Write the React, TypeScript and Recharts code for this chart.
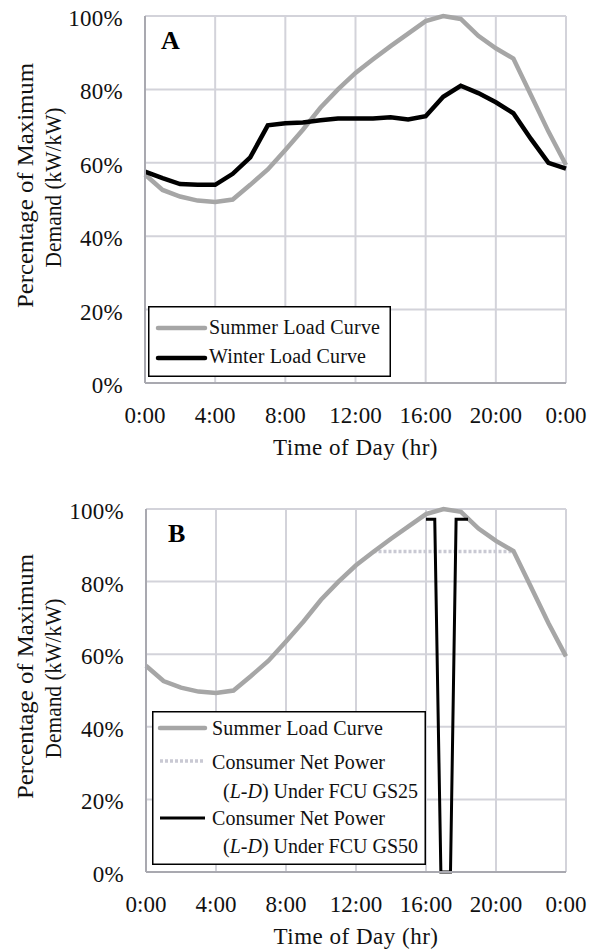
import React from "react";
import {
  LineChart,
  Line,
  XAxis,
  YAxis,
  CartesianGrid,
  Legend,
  Customized,
} from "recharts";

// hourly load profile, % of maximum demand
const hours = [0, 1, 2, 3, 4, 5, 6, 7, 8, 9, 10, 11, 12, 13, 14, 15, 16, 17, 18, 19, 20, 21, 22, 23, 24];
const summerLoad = [56.8, 52.6, 50.8, 49.7, 49.3, 50.0, 54.0, 58.2, 63.5, 69.0, 75.0, 80.0, 84.5, 88.2, 91.8, 95.2, 98.6, 100, 99.2, 94.6, 91.2, 88.4, 78.5, 68.5, 59.4];
const winterLoad = [57.6, 55.8, 54.2, 54.0, 54.0, 57.0, 61.5, 70.2, 70.8, 71.0, 71.6, 72.1, 72.1, 72.1, 72.4, 71.8, 72.7, 78.0, 81.0, 79.0, 76.5, 73.5, 66.5, 60.0, 58.4];

// consumer net power under FCU
const gs25Hours = [13, 21];
const gs25Values = [88.3, 88.3];
const gs50Hours = [16, 16.5, 16.85, 17.4, 17.72, 18.4];
const gs50Values = [97.2, 97.2, 0, 0, 97.2, 97.2];

const xTicks = [0, 4, 8, 12, 16, 20, 24];
const xTickLabels = ["0:00", "4:00", "8:00", "12:00", "16:00", "20:00", "0:00"];
const yTicks = [0, 20, 40, 60, 80, 100];
const yTickLabels = ["0%", "20%", "40%", "60%", "80%", "100%"];

const loadData = hours.map((h, i) => ({ hour: h, summer: summerLoad[i], winter: winterLoad[i] }));
const gs25Data = gs25Hours.map((h, i) => ({ hour: h, value: gs25Values[i] }));
const gs50Data = gs50Hours.map((h, i) => ({ hour: h, value: gs50Values[i] }));

const FONT = "Liberation Serif, DejaVu Serif, serif";
const serif = { fontFamily: FONT };
const GRID = "#d3d3da";
const AXIS = "#a9a9b0";
const SUMMER = "#a6a6a6";
const GS25 = "#c9c9d3";
const INK = "#111";

const YTick = ({ x, y, payload }: any) => (
  <text x={x - 22} y={y + 10} textAnchor="end" style={{ ...serif, letterSpacing: 0.3 }} fontSize={23} fill={INK}>
    {yTickLabels[yTicks.indexOf(payload.value)]}
  </text>
);

const XTick = ({ x, y, payload }: any) => (
  <text x={x} y={y + 40} textAnchor="middle" style={serif} fontSize={23} fill={INK}>
    {xTickLabels[xTicks.indexOf(payload.value)]}
  </text>
);

const YTitle = ({ viewBox }: any) => {
  const cy = viewBox.y + viewBox.height / 2 - 14;
  return (
    <g fill={INK}>
      <text
        x={25}
        y={cy}
        style={serif}
        fontSize={23}
        textAnchor="middle"
        dominantBaseline="central"
        textLength={245}
        lengthAdjust="spacingAndGlyphs"
        transform={`rotate(-90, 25, ${cy})`}
      >
        Percentage of Maximum
      </text>
      <text
        x={53}
        y={cy + 2}
        style={serif}
        fontSize={23}
        textAnchor="middle"
        dominantBaseline="central"
        textLength={160}
        lengthAdjust="spacingAndGlyphs"
        transform={`rotate(-90, 53, ${cy + 2})`}
      >
        Demand (kW/kW)
      </text>
    </g>
  );
};

const XTitle = ({ viewBox }: any) => (
  <text
    x={viewBox.x + viewBox.width / 2}
    y={viewBox.y + 72}
    textAnchor="middle"
    style={{ ...serif, letterSpacing: 0.5 }}
    fontSize={23}
    fill={INK}
  >
    Time of Day (hr)
  </text>
);

const PanelLetter = (letter: string, x: number, y: number) => () =>
  (
    <text x={x} y={y} style={serif} fontSize={26} fontWeight="bold" fill="#000">
      {letter}
    </text>
  );

const LegendText = ({ x, y, len, children }: any) => (
  <text x={x} y={y} style={serif} textLength={len} lengthAdjust="spacing">
    {children}
  </text>
);

const LegendA = () => (
  <svg width={243} height={71} style={{ display: "block" }}>
    <rect x={0.75} y={0.75} width={241.5} height={69.5} fill="#fff" stroke="#000" strokeWidth={1.5} />
    <g fontSize={20} fill={INK}>
      <line x1={10} y1={22} x2={57} y2={22} stroke={SUMMER} strokeWidth={4.5} strokeLinecap="round" />
      <LegendText x={61} y={28} len={171}>Summer Load Curve</LegendText>
      <line x1={10} y1={52} x2={57} y2={52} stroke="#000" strokeWidth={4.5} strokeLinecap="round" />
      <LegendText x={61} y={57} len={157}>Winter Load Curve</LegendText>
    </g>
  </svg>
);

const LegendB = () => (
  <svg width={274} height={154} style={{ display: "block" }}>
    <rect x={0.75} y={0.75} width={272.5} height={152.5} fill="#fff" stroke="#000" strokeWidth={1.5} />
    <g fontSize={20} fill={INK}>
      <line x1={8} y1={17} x2={53} y2={17} stroke={SUMMER} strokeWidth={4.5} strokeLinecap="round" />
      <LegendText x={60} y={24} len={171}>Summer Load Curve</LegendText>
      <line x1={8} y1={50} x2={53} y2={50} stroke={GS25} strokeWidth={3.5} strokeDasharray="3 2" />
      <LegendText x={60} y={58} len={173}>Consumer Net Power</LegendText>
      <LegendText x={71} y={87} len={195}>
        (<tspan fontStyle="italic">L-D</tspan>) Under FCU GS25
      </LegendText>
      <line x1={8} y1={107} x2={53} y2={107} stroke="#000" strokeWidth={3} />
      <LegendText x={60} y={114} len={173}>Consumer Net Power</LegendText>
      <LegendText x={71} y={142} len={195}>
        (<tspan fontStyle="italic">L-D</tspan>) Under FCU GS50
      </LegendText>
    </g>
  </svg>
);

const axisProps = {
  tickLine: false,
  tickSize: 0,
  tickMargin: 0,
  axisLine: { stroke: AXIS, strokeWidth: 2 },
  interval: 0 as const,
};

export default function App() {
  return (
    <div style={{ position: "absolute", left: 0, top: 0, width: 589, height: 949, background: "#fff", fontFamily: FONT }}>
      <LineChart width={589} height={470} data={loadData} margin={{ top: 16, right: 23, bottom: 0, left: 0 }}>
        <CartesianGrid stroke={GRID} strokeWidth={2} />
        <XAxis
          dataKey="hour"
          type="number"
          domain={[0, 24]}
          ticks={xTicks}
          height={87}
          tick={<XTick />}
          label={{ content: <XTitle /> }}
          {...axisProps}
        />
        <YAxis
          type="number"
          domain={[0, 100]}
          ticks={yTicks}
          width={145}
          tick={<YTick />}
          label={{ content: <YTitle /> }}
          {...axisProps}
        />
        <Line dataKey="summer" name="Summer Load Curve" stroke={SUMMER} strokeWidth={4.5} dot={false} activeDot={false} isAnimationActive={false} />
        <Line dataKey="winter" name="Winter Load Curve" stroke="#000" strokeWidth={4.5} dot={false} activeDot={false} isAnimationActive={false} />
        <Legend
          layout="horizontal"
          align="center"
          verticalAlign="middle"
          content={<LegendA />}
          wrapperStyle={{ left: 148, top: 306, width: 243, height: 71 }}
        />
        <Customized component={PanelLetter("A", 161, 49)} />
      </LineChart>

      <LineChart width={589} height={479} data={loadData} margin={{ top: 39, right: 23, bottom: 0, left: 0 }}>
        <CartesianGrid stroke={GRID} strokeWidth={2} />
        <XAxis
          dataKey="hour"
          type="number"
          domain={[0, 24]}
          ticks={xTicks}
          height={77}
          tick={<XTick />}
          label={{ content: <XTitle /> }}
          {...axisProps}
        />
        <YAxis
          type="number"
          domain={[0, 100]}
          ticks={yTicks}
          width={146}
          tick={<YTick />}
          label={{ content: <YTitle /> }}
          {...axisProps}
        />
        <Line data={gs25Data} dataKey="value" name="GS25" stroke={GS25} strokeWidth={3.5} strokeDasharray="3 2" dot={false} activeDot={false} isAnimationActive={false} />
        <Line dataKey="summer" name="Summer Load Curve" stroke={SUMMER} strokeWidth={4.5} dot={false} activeDot={false} isAnimationActive={false} />
        <Line data={gs50Data} dataKey="value" name="GS50" stroke="#000" strokeWidth={3} dot={false} activeDot={false} isAnimationActive={false} />
        <Legend
          layout="horizontal"
          align="center"
          verticalAlign="middle"
          content={<LegendB />}
          wrapperStyle={{ left: 152, top: 241, width: 274, height: 154 }}
        />
        <Customized component={PanelLetter("B", 168, 72)} />
      </LineChart>
    </div>
  );
}
